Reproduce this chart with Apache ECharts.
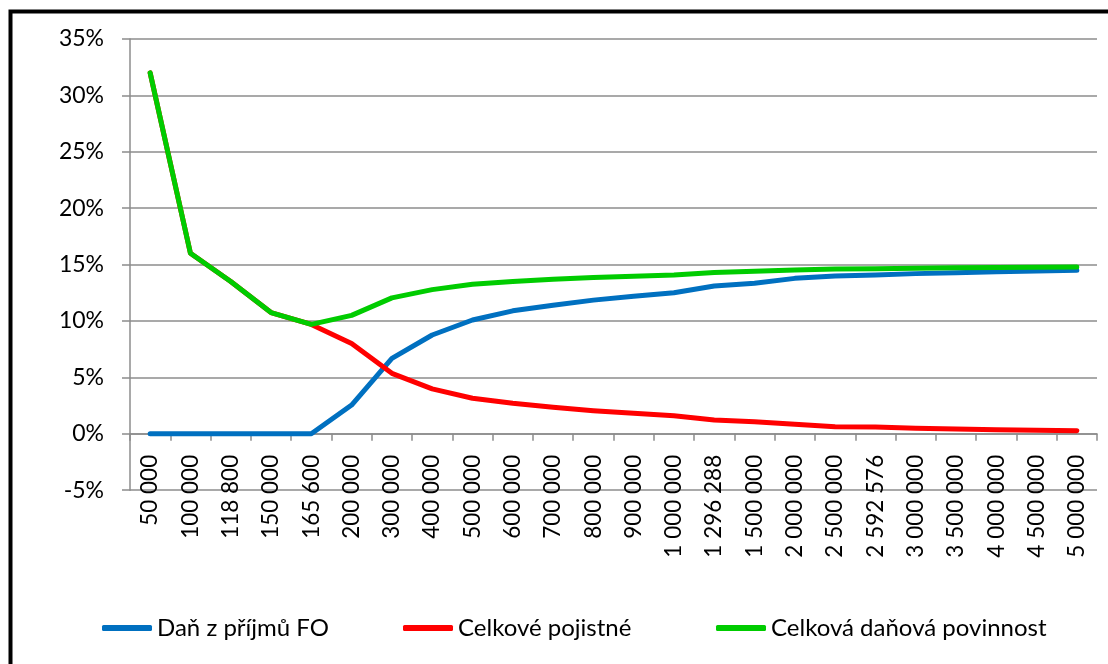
<!DOCTYPE html>
<html>
<head>
<meta charset="utf-8">
<script src="https://cdn.jsdelivr.net/npm/echarts@6/dist/echarts.min.js"></script>
<style>
html,body{margin:0;padding:0;background:#fff;}
#chart{width:1108px;height:664px;}
</style>
</head>
<body>
<div id="chart"></div>
<script>
const categories = ['50 000','100 000','118 800','150 000','165 600','200 000','300 000','400 000','500 000','600 000','700 000','800 000','900 000','1 000 000','1 296 288','1 500 000','2 000 000','2 500 000','2 592 576','3 000 000','3 500 000','4 000 000','4 500 000','5 000 000'];
const danZPrijmu = [0,0,0,0,0,2.55,6.69,8.76,10.09,10.9,11.4,11.85,12.2,12.5,13.1,13.34,13.78,14.0,14.08,14.2,14.28,14.37,14.43,14.49];
const celkovePojistne = [32,16,13.5,10.75,9.7,8.0,5.36,3.98,3.15,2.7,2.35,2.05,1.82,1.6,1.22,1.07,0.84,0.62,0.6,0.5,0.43,0.37,0.31,0.27];
const celkovaPovinnost = [32,16,13.5,10.75,9.7,10.5,12.05,12.78,13.25,13.5,13.7,13.85,13.97,14.08,14.3,14.4,14.52,14.62,14.64,14.68,14.72,14.75,14.77,14.78];
const seriesNames = ['Daň z příjmů FO','Celkové pojistné','Celková daňová povinnost'];
const colors = ['#0070C0','#FF0000','#00CC00'];

const FONT = 'Lato';
const chart = echarts.init(document.getElementById('chart'), null, {renderer:'canvas'});
const gray = '#8C8C8C';
const gridTop = 39, gridBottomY = 490.2;
const yMin = -5, yMax = 35;
const zeroOffset = (gridBottomY - gridTop) * (0 - yMin) / (yMax - yMin);
function legendFor(i, left){
  return {
    data:[seriesNames[i]], left:left, top:611,
    icon:'roundRect', itemWidth:50, itemHeight:6, itemGap:0,
    textStyle:{fontFamily:FONT, fontSize:24, color:'#000'},
    selectedMode:false
  };
}
chart.setOption({
  animation:false,
  backgroundColor:'#fff',
  color:colors,
  grid:{left:130, right:11, top:gridTop, bottom:664-gridBottomY, containLabel:false},
  legend:[legendFor(0,97), legendFor(1,398), legendFor(2,711)],
  xAxis:{
    type:'category', data:categories, boundaryGap:true,
    position:'bottom', offset:-zeroOffset,
    axisLine:{onZero:false, lineStyle:{color:gray, width:1.5}},
    axisTick:{show:true, length:7, lineStyle:{color:gray, width:1.5}},
    axisLabel:{rotate:90, interval:0, margin:21, fontFamily:FONT, fontSize:22.5, color:'#000'}
  },
  yAxis:{
    type:'value', min:yMin, max:yMax, interval:5,
    axisLine:{show:true, lineStyle:{color:gray, width:1.5}},
    axisTick:{show:true, length:8, lineStyle:{color:gray, width:1.5}},
    splitLine:{lineStyle:{color:gray, width:1.5}},
    axisLabel:{formatter:'{value}%', margin:26, fontFamily:FONT, fontSize:23, color:'#000'}
  },
  series:[0,1,2].map(i=>({
    name:seriesNames[i], type:'line', symbol:'none',
    data:[danZPrijmu,celkovePojistne,celkovaPovinnost][i],
    lineStyle:{width:5, color:colors[i], cap:'round', join:'round'},
    itemStyle:{color:colors[i]}
  })),
  graphic:[{
    type:'rect', silent:true, z:100,
    shape:{x:10.5, y:11.5, width:1200, height:800},
    style:{fill:'none', stroke:'#000', lineWidth:4}
  }]
});
</script>
</body>
</html>
